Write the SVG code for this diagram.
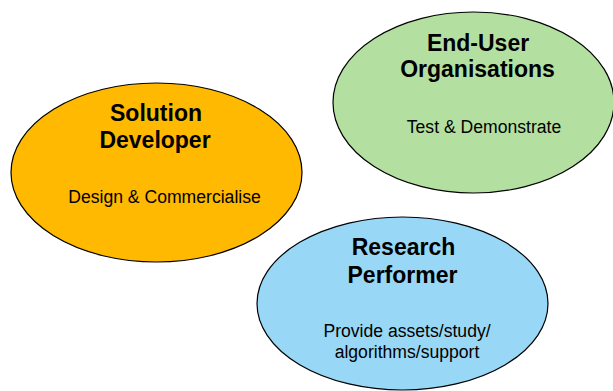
<svg xmlns="http://www.w3.org/2000/svg" width="613" height="391" viewBox="0 0 613 391">
  <style>
    .shape { stroke: #000; stroke-width: 1.2; }
    .title { font-family: "Liberation Sans", Arial, sans-serif; font-weight: bold; font-size: 23px; fill: #000; text-anchor: middle; }
    .sub { font-family: "Liberation Sans", Arial, sans-serif; font-size: 17.6px; fill: #000; text-anchor: middle; }
  </style>
  <rect width="613" height="391" fill="#fff"/>

  <g id="solution-developer">
    <ellipse class="shape" cx="156.5" cy="172.5" rx="145.5" ry="89.5" fill="#FFB900"/>
    <text class="title" x="156" y="121">Solution</text>
    <text class="title" x="155" y="148">Developer</text>
    <text class="sub" x="164.5" y="203">Design &amp; Commercialise</text>
  </g>

  <g id="end-user-organisations">
    <ellipse class="shape" cx="473.5" cy="102.5" rx="140.5" ry="90.5" fill="#B3E0A0"/>
    <text class="title" x="478" y="51">End-User</text>
    <text class="title" x="477.5" y="77">Organisations</text>
    <text class="sub" x="484" y="133">Test &amp; Demonstrate</text>
  </g>

  <g id="research-performer">
    <ellipse class="shape" cx="402.5" cy="303.5" rx="145.5" ry="86.5" fill="#98D8F6"/>
    <text class="title" x="403.5" y="255">Research</text>
    <text class="title" x="402.5" y="283">Performer</text>
    <text class="sub" x="407" y="337">Provide assets/study/</text>
    <text class="sub" x="407" y="358">algorithms/support</text>
  </g>

  <g id="connectors"></g>
</svg>
